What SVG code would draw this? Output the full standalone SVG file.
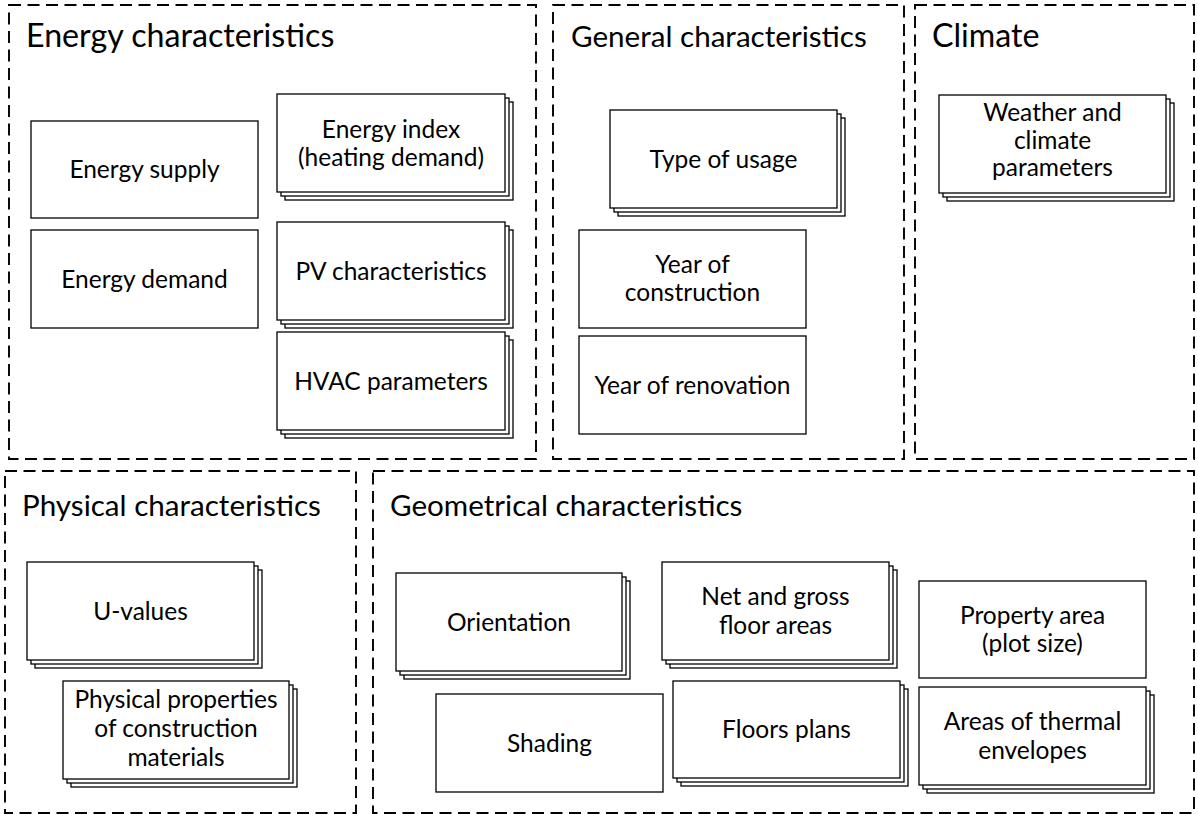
<svg xmlns="http://www.w3.org/2000/svg" width="1198" height="814" viewBox="0 0 1198 814">
<style>
.grp{fill:none;stroke:#000;stroke-width:1.9;stroke-dasharray:12 6.5}
.box{fill:#fff;stroke:#000;stroke-width:1.3}
.title{font-family:Lato,"Liberation Sans",sans-serif;font-size:32.2px;fill:#000}
.t2{font-size:29.6px}
.lbl{font-family:Lato,"Liberation Sans",sans-serif;font-size:24.5px;fill:#000;text-anchor:middle}
</style>
<rect width="1198" height="814" fill="#fff"/>
<g id="group-energy">
<rect class="grp" x="9" y="5" width="527" height="454"/>
<text class="title" x="26" y="47">Energy characteristics</text>
</g>
<g id="group-general">
<rect class="grp" x="553" y="5" width="351" height="454"/>
<text class="title t2" x="571" y="47">General characteristics</text>
</g>
<g id="group-climate">
<rect class="grp" x="915" y="5" width="279" height="454"/>
<text class="title" x="932" y="47">Climate</text>
</g>
<g id="group-physical">
<rect class="grp" x="5" y="471" width="351" height="342"/>
<text class="title t2" x="22" y="516">Physical characteristics</text>
</g>
<g id="group-geometrical">
<rect class="grp" x="373" y="471" width="821" height="342"/>
<text class="title t2" x="390" y="516">Geometrical characteristics</text>
</g>

<g id="energy-supply">
<rect class="box" x="31" y="121" width="227" height="97"/>
<text class="lbl" x="144.5" y="178.3">Energy supply</text>
</g>
<g id="energy-demand">
<rect class="box" x="31" y="230" width="227" height="98"/>
<text class="lbl" x="144.5" y="287.8">Energy demand</text>
</g>
<g id="energy-index">
<rect class="box" x="285" y="102" width="228" height="98"/>
<rect class="box" x="281" y="98" width="228" height="98"/>
<rect class="box" x="277" y="94" width="228" height="98"/>
<text class="lbl" x="391" y="137.5">Energy index</text>
<text class="lbl" x="391" y="166">(heating demand)</text>
</g>
<g id="pv-characteristics">
<rect class="box" x="285" y="230" width="228" height="98"/>
<rect class="box" x="281" y="226" width="228" height="98"/>
<rect class="box" x="277" y="222" width="228" height="98"/>
<text class="lbl" x="391" y="279.8">PV characteristics</text>
</g>
<g id="hvac-parameters">
<rect class="box" x="285" y="340" width="228" height="98"/>
<rect class="box" x="281" y="336" width="228" height="98"/>
<rect class="box" x="277" y="332" width="228" height="98"/>
<text class="lbl" x="391" y="389.8">HVAC parameters</text>
</g>

<g id="type-of-usage">
<rect class="box" x="618" y="118" width="227" height="98"/>
<rect class="box" x="614" y="114" width="227" height="98"/>
<rect class="box" x="610" y="110" width="227" height="98"/>
<text class="lbl" x="723.5" y="167.8">Type of usage</text>
</g>
<g id="year-of-construction">
<rect class="box" x="579" y="230" width="227" height="98"/>
<text class="lbl" x="692.5" y="272.5">Year of</text>
<text class="lbl" x="692.5" y="301">construction</text>
</g>
<g id="year-of-renovation">
<rect class="box" x="579" y="336" width="227" height="98"/>
<text class="lbl" x="692.5" y="393.8">Year of renovation</text>
</g>

<g id="weather-climate">
<rect class="box" x="947" y="103" width="227" height="98"/>
<rect class="box" x="943" y="99" width="227" height="98"/>
<rect class="box" x="939" y="95" width="227" height="98"/>
<text class="lbl" x="1052.5" y="121">Weather and</text>
<text class="lbl" x="1052.5" y="148.5">climate</text>
<text class="lbl" x="1052.5" y="176">parameters</text>
</g>

<g id="u-values">
<rect class="box" x="35" y="570" width="227" height="98"/>
<rect class="box" x="31" y="566" width="227" height="98"/>
<rect class="box" x="27" y="562" width="227" height="98"/>
<text class="lbl" x="140.5" y="619.8">U-values</text>
</g>
<g id="physical-properties">
<rect class="box" x="71" y="689" width="226" height="98"/>
<rect class="box" x="67" y="685" width="226" height="98"/>
<rect class="box" x="63" y="681" width="226" height="98"/>
<text class="lbl" x="176" y="708">Physical properties</text>
<text class="lbl" x="176" y="737">of construction</text>
<text class="lbl" x="176" y="766">materials</text>
</g>

<g id="orientation">
<rect class="box" x="404" y="581" width="226" height="98"/>
<rect class="box" x="400" y="577" width="226" height="98"/>
<rect class="box" x="396" y="573" width="226" height="98"/>
<text class="lbl" x="509" y="630.8">Orientation</text>
</g>
<g id="shading">
<rect class="box" x="436" y="694" width="227" height="98"/>
<text class="lbl" x="549.5" y="751.8">Shading</text>
</g>
<g id="net-gross-floor">
<rect class="box" x="670" y="570" width="227" height="98"/>
<rect class="box" x="666" y="566" width="227" height="98"/>
<rect class="box" x="662" y="562" width="227" height="98"/>
<text class="lbl" x="775.5" y="605">Net and gross</text>
<text class="lbl" x="775.5" y="634">floor areas</text>
</g>
<g id="floors-plans">
<rect class="box" x="681" y="689" width="227" height="97"/>
<rect class="box" x="677" y="685" width="227" height="97"/>
<rect class="box" x="673" y="681" width="227" height="97"/>
<text class="lbl" x="786.5" y="738.3">Floors plans</text>
</g>
<g id="property-area">
<rect class="box" x="919" y="581" width="227" height="97"/>
<text class="lbl" x="1032.5" y="623.5">Property area</text>
<text class="lbl" x="1032.5" y="652">(plot size)</text>
</g>
<g id="areas-thermal">
<rect class="box" x="927" y="695" width="227" height="98"/>
<rect class="box" x="923" y="691" width="227" height="98"/>
<rect class="box" x="919" y="687" width="227" height="98"/>
<text class="lbl" x="1032.5" y="730">Areas of thermal</text>
<text class="lbl" x="1032.5" y="759">envelopes</text>
</g>
<g id="connectors"></g>
</svg>
